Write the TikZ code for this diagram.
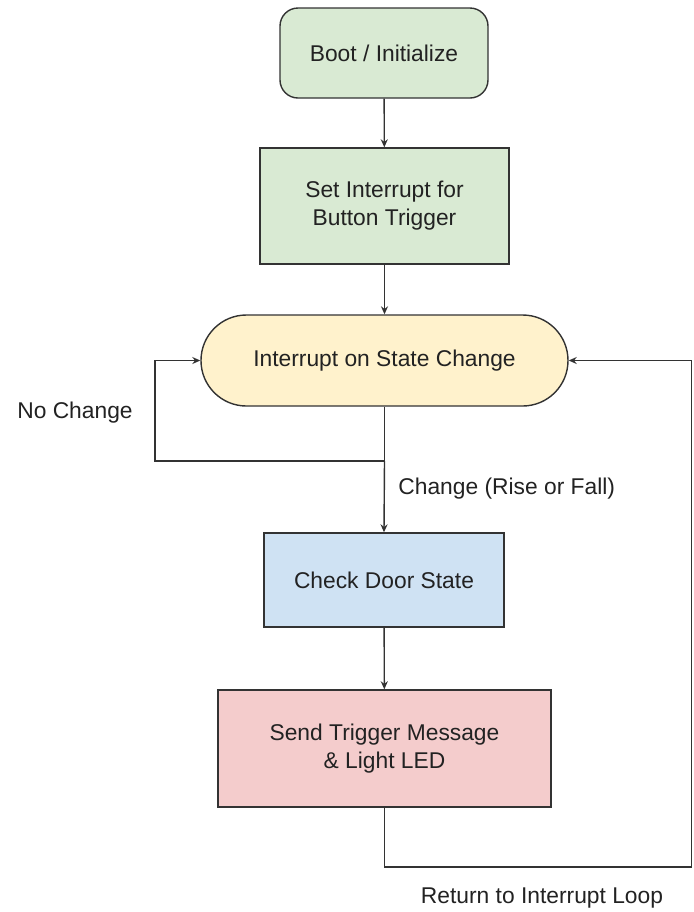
\documentclass[tikz,border=0pt]{standalone}
\usepackage{fontspec}
\setmainfont{Liberation Sans}
\usepackage{tikz}
\usetikzlibrary{arrows.meta}

\definecolor{bootgreen}{HTML}{D9EAD3}
\definecolor{waityellow}{HTML}{FFF2CC}
\definecolor{checkblue}{HTML}{CFE2F3}
\definecolor{sendpink}{HTML}{F4CCCC}
\definecolor{boxline}{HTML}{333333}
\definecolor{inktext}{HTML}{222222}

\begin{document}
\begin{tikzpicture}[x=0.5pt,y=-0.5pt,
	box/.style={draw=boxline, line width=0.7pt, inner sep=0pt, align=center, text=inktext, font=\fontsize{11.4}{14}\selectfont},
	flow/.style={draw=boxline, line width=0.7pt, -{Stealth[length=4pt,width=3.5pt]}},
	lbl/.style={text=inktext, inner sep=0pt, font=\fontsize{11.4}{14}\selectfont}]
	\useasboundingbox (0,0) rectangle (693,912);

	\node[box, fill=bootgreen, rounded corners=9pt, minimum width=104pt, minimum height=45pt] (boot) at (384,53) {Boot / Initialize};
	\node[box, fill=bootgreen, minimum width=124.5pt, minimum height=58pt] (setint) at (384.5,206) {Set Interrupt for\\Button Trigger};
	\node[box, fill=waityellow, rounded corners=22.7pt, minimum width=183.5pt, minimum height=45.5pt] (intr) at (384.5,360.5) {Interrupt on State Change};
	\node[box, fill=checkblue, minimum width=120pt, minimum height=47pt] (check) at (384,580) {Check Door State};
	\node[box, fill=sendpink, minimum width=166.5pt, minimum height=58.5pt] (send) at (384.5,748.5) {Send Trigger Message\\\& Light LED};

	\coordinate (nochg) at (384.5,461);
	\coordinate (noleft) at (155,461);
	\coordinate (retlow) at (384.5,867);
	\coordinate (retright) at (691.5,867);

	% main line
	\draw[flow] (boot) -- (setint);
	\draw[flow] (setint) -- (intr);
	\draw[flow] (nochg) -- (check.north);
	\draw[flow] (check) -- (send);
	% no change loop
	\draw[flow] (intr.south) -- (nochg) -- (noleft) |- (intr.west);
	% back to interrupt
	\draw[flow] (send.south) -- (retlow) -- (retright) |- (intr.east);

	\node[lbl] (nolbl) at (75,413) {No Change};
	\node[lbl, anchor=west] (chglbl) at (398,489) {Change (Rise or Fall)};
	\node[lbl] (retlbl) at (542,898) {Return to Interrupt Loop};
\end{tikzpicture}
\end{document}
